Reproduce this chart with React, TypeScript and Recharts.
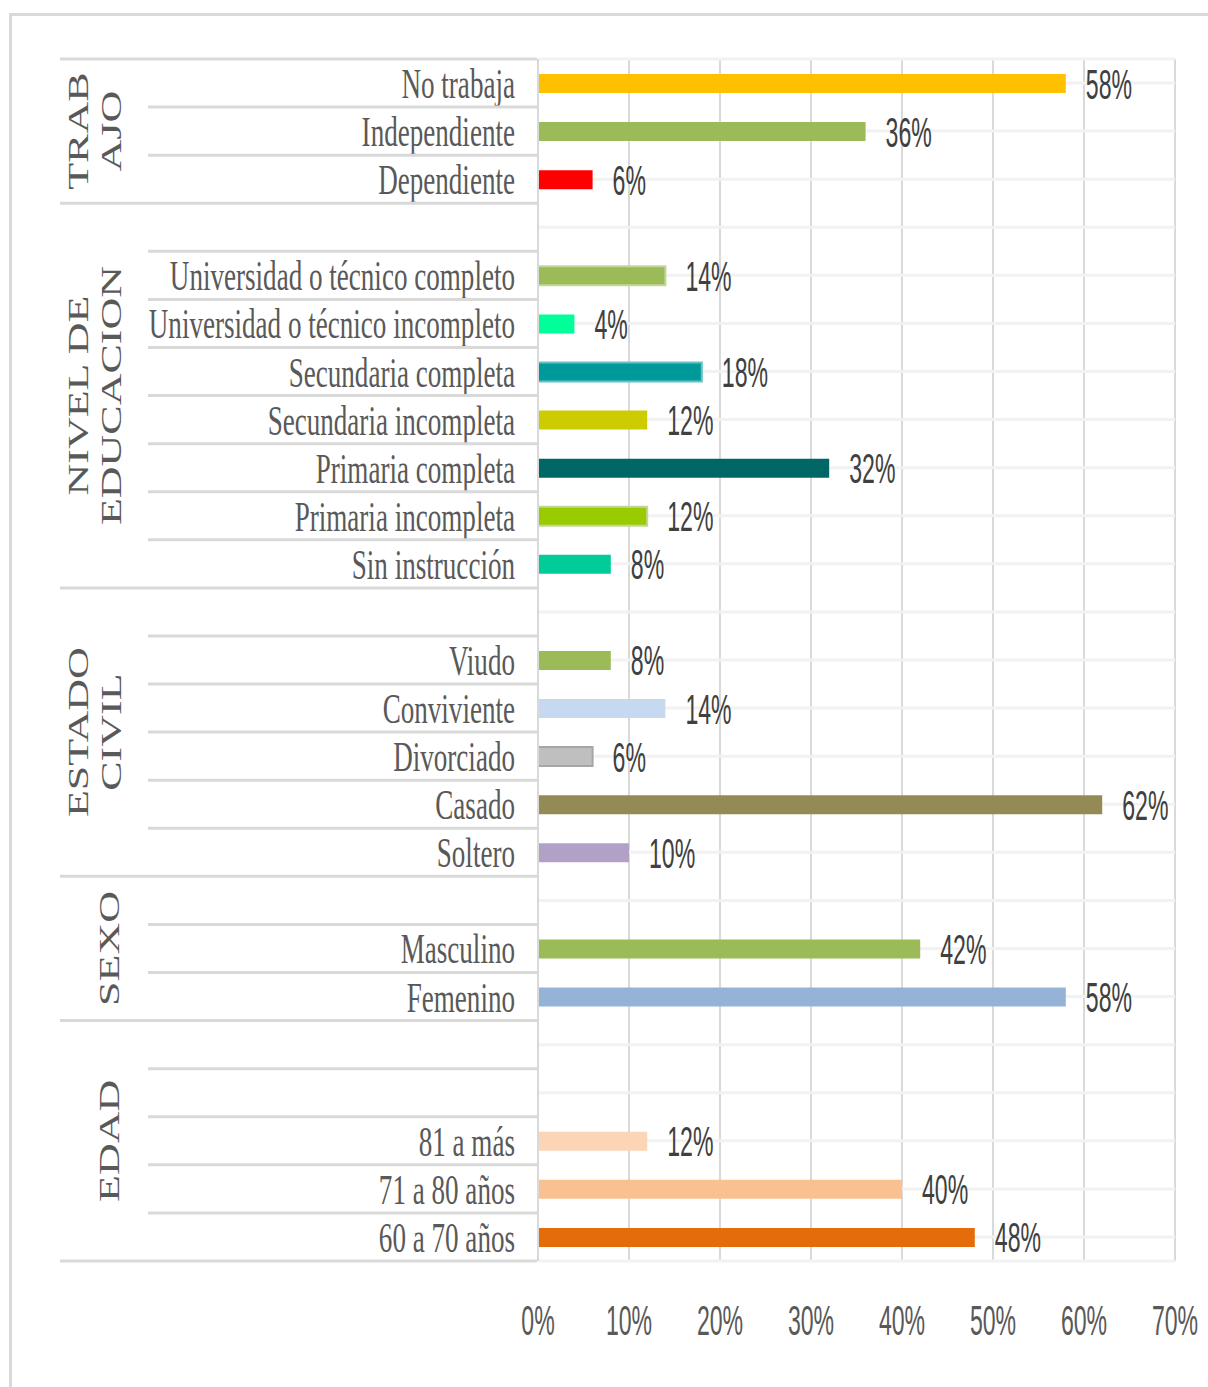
import { BarChart, Bar, XAxis, YAxis, CartesianGrid, Cell, LabelList } from 'recharts';

const categories = [
  'No trabaja', 'Independiente', 'Dependiente',
  '', 'Universidad o técnico completo', 'Universidad o técnico incompleto', 'Secundaria completa',
  'Secundaria incompleta', 'Primaria completa', 'Primaria incompleta', 'Sin instrucción',
  '', 'Viudo', 'Conviviente', 'Divorciado', 'Casado', 'Soltero',
  '', 'Masculino', 'Femenino',
  '', '', '81 a más', '71 a 80 años', '60 a 70 años',
];

const values = [
  58, 36, 6,
  null, 14, 4, 18, 12, 32, 12, 8,
  null, 8, 14, 6, 62, 10,
  null, 42, 58,
  null, null, 12, 40, 48,
];

const barColors = [
  '#FFC000', '#9BBB59', '#FF0000',
  'none', '#9BBB59', '#00FF99', '#009999', '#CCCC00', '#006666', '#99CC00', '#00CC99',
  'none', '#9BBB59', '#C6D9F1', '#BFBFBF', '#948A54', '#B2A1C7',
  'none', '#9BBB59', '#95B3D7',
  'none', 'none', '#FBD5B5', '#FAC090', '#E46C0A',
];

const barStrokes = [
  'none', 'none', 'none',
  'none', '#C3D69B', 'none', '#66C2C2', 'none', 'none', '#C3D69B', 'none',
  'none', 'none', 'none', '#A6A6A6', 'none', 'none',
  'none', 'none', 'none',
  'none', 'none', 'none', 'none', 'none',
];

const groupNames = [['TRAB', 'AJO'], ['NIVEL DE', 'EDUCACION'], ['ESTADO', 'CIVIL'], ['SEXO'], ['EDAD']];
const groupSizes = [3, 8, 6, 3, 5];
const xTicks = [0, 10, 20, 30, 40, 50, 60, 70];

const data = categories.map((name, i) => ({ id: `r${i}`, name, value: values[i] }));

const groupStarts: number[] = [];
groupSizes.reduce((acc, n) => {
  groupStarts.push(acc);
  return acc + n;
}, 0);

const WIDTH = 1208;
const HEIGHT = 1387;
const PLOT_TOP = 59;
const PLOT_H = 1202;
const BAND = PLOT_H / categories.length;
const LINE = '#d9d9d9';
const SERIF = "'Liberation Serif', 'Times New Roman', serif";
const SANS = "'Liberation Sans', Arial, sans-serif";

function CategoryTick(props: any) {
  const { y, index } = props;
  const row = data[index];
  if (!row) return null;
  const top = y - BAND / 2;
  const gi = groupStarts.indexOf(index);
  let groupLabel = null;
  if (gi >= 0) {
    const cy = top + (groupSizes[gi] * BAND) / 2;
    const lines = groupNames[gi];
    const xs = lines.length === 2 ? [88, 121] : [119];
    groupLabel = lines.map((t, k) => (
      <text
        key={k}
        transform={`translate(${xs[k]},${cy}) scale(0.66,1) rotate(-90)`}
        textAnchor="middle"
        fontFamily={SERIF}
        fontSize={44}
        fill="#595959"
      >
        {t}
      </text>
    ));
  }
  return (
    <g>
      <line x1={gi >= 0 ? 60 : 148} x2={537} y1={top} y2={top} stroke={LINE} strokeWidth={3} />
      {index === data.length - 1 && (
        <line x1={60} x2={537} y1={top + BAND} y2={top + BAND} stroke={LINE} strokeWidth={3} />
      )}
      {row.name && (
        <text
          transform={`translate(515,${y + 15}) scale(0.63,1)`}
          textAnchor="end"
          fontFamily={SERIF}
          fontSize={43}
          fill="#595959"
        >
          {row.name}
        </text>
      )}
      {groupLabel}
    </g>
  );
}

function PercentTick(props: any) {
  const { x, payload } = props;
  return (
    <text
      transform={`translate(${x},1335) scale(0.55,1)`}
      textAnchor="middle"
      fontFamily={SANS}
      fontSize={42}
      fill="#595959"
    >
      {`${payload.value}%`}
    </text>
  );
}

function ValueLabel(props: any) {
  const { x, y, width, height, value } = props;
  if (value === null || value === undefined) return null;
  return (
    <text
      transform={`translate(${x + width + 20},${y + height / 2 + 15}) scale(0.55,1)`}
      fontFamily={SANS}
      fontSize={42}
      fill="#404040"
    >
      {`${value}%`}
    </text>
  );
}

export default function App() {
  return (
    <div style={{ position: 'absolute', left: 0, top: 0, width: WIDTH, height: HEIGHT, overflow: 'hidden', background: '#fff' }}>
      {/* outer chart frame, cropped at right and bottom */}
      <div style={{ position: 'absolute', left: 9, top: 13, width: 1300, height: 1500, border: `3px solid ${LINE}` }} />
      <div style={{ position: 'absolute', left: 0, top: 0 }}>
        <BarChart
          width={WIDTH}
          height={HEIGHT}
          data={data}
          layout="vertical"
          margin={{ top: PLOT_TOP, right: 33, left: 0, bottom: HEIGHT - PLOT_TOP - PLOT_H - 80 }}
          barSize={19}
        >
          <CartesianGrid horizontal={false} stroke={LINE} strokeWidth={2} />
          <CartesianGrid vertical={false} stroke="#f2f2f2" strokeWidth={3} />
          <XAxis
            type="number"
            domain={[0, 70]}
            ticks={xTicks}
            axisLine={false}
            tickLine={false}
            height={80}
            tick={(p: any) => <PercentTick {...p} />}
          />
          <YAxis
            type="category"
            dataKey="id"
            width={538}
            interval={0}
            tickLine={false}
            axisLine={{ stroke: LINE, strokeWidth: 2 }}
            tick={(p: any) => <CategoryTick {...p} />}
          />
          <Bar dataKey="value" isAnimationActive={false}>
            {data.map((_, i) => (
              <Cell key={i} fill={barColors[i]} stroke={barStrokes[i]} strokeWidth={barStrokes[i] === 'none' ? 0 : 2} />
            ))}
            <LabelList dataKey="value" content={(p: any) => <ValueLabel {...p} />} />
          </Bar>
        </BarChart>
      </div>
    </div>
  );
}
